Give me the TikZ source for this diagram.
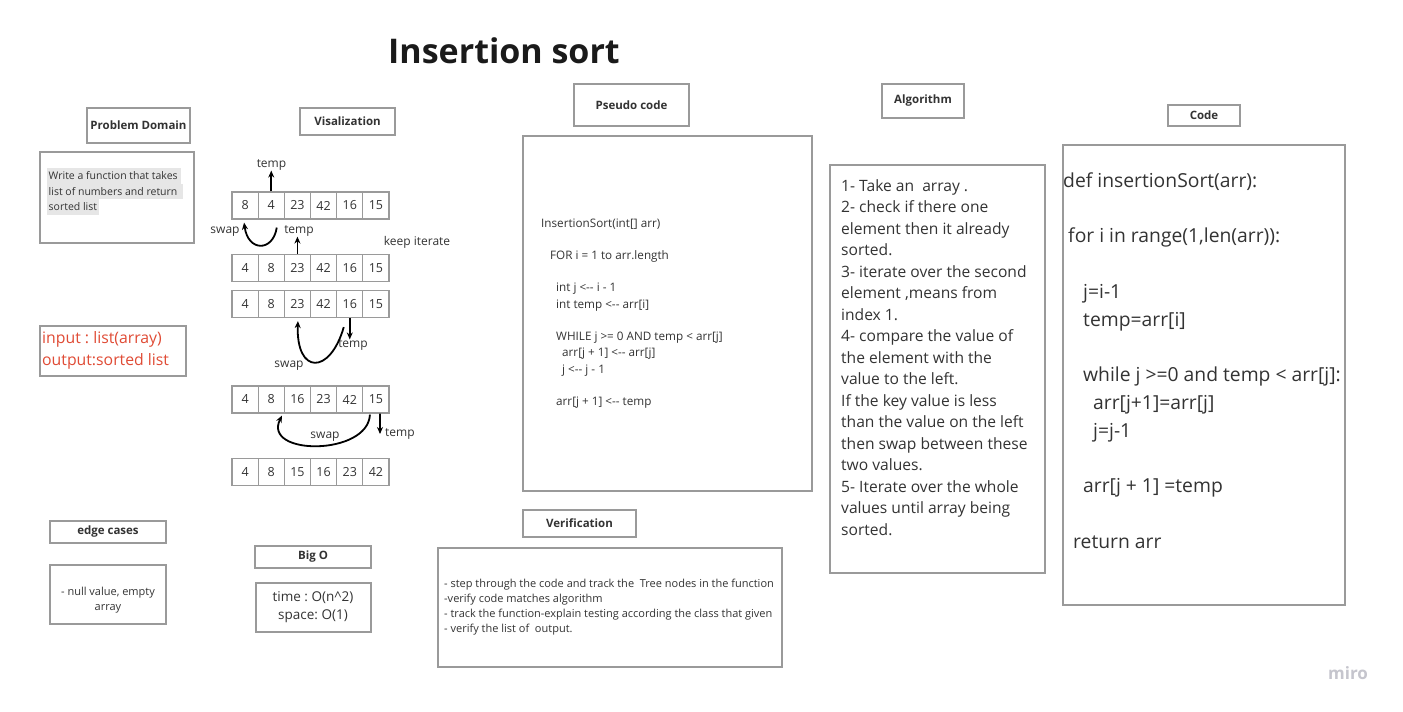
\documentclass[tikz,border=0pt]{standalone}
\usepackage{fontspec}
\setmainfont{Open Sans}
\usetikzlibrary{arrows.meta,calc}
\definecolor{bord}{HTML}{9A9A9A}
\definecolor{txt}{HTML}{333333}
\definecolor{ttl}{HTML}{1A1A1A}
\definecolor{redtxt}{HTML}{E04B35}
\definecolor{hl}{HTML}{E6E6E6}
\definecolor{mirog}{HTML}{C5C5CD}
\newcommand{\fsz}[2]{\fontsize{#1}{#2}\selectfont}
\newcommand{\tstrut}[1]{\rule{0pt}{#1}}
\frenchspacing
\begin{document}
\begin{tikzpicture}[x=1pt,y=-1pt,
  box/.style={draw=bord, line width=1.3pt, inner sep=0pt, text=txt},
  hdr/.style={box, font=\bfseries\fsz{11.5}{14}},
  cell/.style={draw=bord, line width=1.2pt, minimum width=26.17pt, minimum height=27pt, inner sep=0pt, font=\fsz{12.5}{15}, text=txt},
  lbl/.style={font=\fsz{12}{14}, text=txt, inner sep=0pt},
  arr/.style={line width=1.8pt, -{Stealth[length=7pt,width=6pt]}},
  body/.style={text=txt, inner sep=0pt, align=left, anchor=north west},
  hlline/.style={fill=hl, text=txt, inner xsep=1.5pt, inner ysep=0pt, minimum height=15.5pt, anchor=west, font=\fsz{10.5}{15}}
]
\useasboundingbox (0,0) rectangle (1403,712);
\fill[white] (0,0) rectangle (1403,712);

% title
\node[font=\bfseries\fsz{34}{40}, text=ttl, inner sep=0pt] (title) at (504,51) {Insertion sort};

% headers
\node[hdr, minimum width=103pt, minimum height=35pt] (pdh) at (138.5,125.5) {Problem Domain};
\node[hdr, minimum width=95pt, minimum height=27pt] (vish) at (347.5,121.5) {Visalization};
\node[hdr, minimum width=115pt, minimum height=42pt] (psh) at (631.5,105) {Pseudo code};
\node[hdr, minimum width=82pt, minimum height=34pt] (algh) at (923,101) {Algorithm};
\node[hdr, minimum width=72pt, minimum height=21pt] (codeh) at (1204,115.5) {Code};
\node[hdr, minimum width=116pt, minimum height=22pt] (ech) at (108,532) {edge cases};
\node[hdr, minimum width=116pt, minimum height=22pt] (boh) at (313,557) {Big O};
\node[hdr, minimum width=113pt, minimum height=27pt] (verh) at (579.5,523.5) {Verification};

% content boxes
\node[box, minimum width=154pt, minimum height=91pt] (pdb) at (117,197.5) {};
\node[box, minimum width=146pt, minimum height=50pt] (iob) at (113,351) {};
\node[box, minimum width=289pt, minimum height=355pt] (psb) at (667.5,313.5) {};
\node[box, minimum width=215pt, minimum height=408pt] (algb) at (937.5,369) {};
\node[box, minimum width=282pt, minimum height=460pt] (codeb) at (1204,375) {};
\node[box, minimum width=116pt, minimum height=59pt] (ecb) at (108,594.5) {};
\node[box, minimum width=115pt, minimum height=49pt] (bob) at (313.5,607.5) {};
\node[box, minimum width=344pt, minimum height=119pt] (verb) at (610,607.5) {};

% problem domain text
\node[hlline] (pd1) at (47,176) {Write a function that takes\hspace*{2pt}};
\node[hlline] (pd2) at (47,191.5) {list of numbers and return\hspace*{4pt}};
\node[hlline] (pd3) at (47,207) {sorted list};

% input / output
\node[body, text=redtxt, font=\fsz{15.8}{22}] (io) at (42,327.5) {\tstrut{16pt}input : list(array)\\output:sorted list};

% arrays
\foreach \r/\y/\vals in {1/205.5/{8,4,23,42,16,15},2/268/{4,8,23,42,16,15},3/304/{4,8,23,42,16,15},4/399.5/{4,8,16,23,42,15},5/472/{4,8,15,16,23,42}}{
  \foreach \v [count=\i] in \vals {
    \node[cell] (r\r-\i) at ({232+26.17*(\i-0.5)},\y) {\v};
  }
}

% visualization arrows and labels
\node[lbl] (t1) at (271.5,165) {temp};
\draw[arr] (r1-2.north) -- (r1-2.north |- t1.south);
\node[lbl] (s1) at (225,232) {swap};
\draw[arr] ([shift={(5.5,8)}]r1-2.south) .. controls (273,252) and (248,252) .. ([shift={(-1,3)}]r1-1.south);
\node[lbl] (t2) at (299,231) {temp};
\draw[arr] (r2-3.north) -- (r2-3.north |- t2.south);
\node[lbl] (ki) at (417,242) {keep iterate};

\node[lbl] (t3) at (353,345) {temp};
\draw[arr] (r3-5.south) -- (r3-5.south |- t3.north);
\draw[arr] ([shift={(-6,9)}]r3-5.south) .. controls (330,375) and (296,375) .. ([shift={(0.5,3)}]r3-3.south);
\node[lbl] (s2) at (289,366) {swap};

\node[lbl, anchor=west] (t4) at (385,434) {temp};
\coordinate (a4) at (380,434);
\draw[arr] ([xshift=4pt]r4-6.south) -- (a4);
\draw[arr] ([shift={(-6,1)}]r4-6.south) .. controls (368,456) and (262,456) .. ([shift={(-3,2)}]r4-2.south east);
\node[lbl] (s3) at (325,437) {swap};

% pseudo code
\node[body, font=\fsz{11.7}{16.2}] (pst) at (541,216) {\tstrut{11.7pt}InsertionSort(int[] arr)\\[15pt]
\hspace*{9pt}FOR i = 1 to arr.length\\[16.5pt]
\hspace*{15pt}int j <-{}- i - 1\\
\hspace*{15pt}int temp <-{}- arr[i]\\[16.5pt]
\hspace*{15pt}WHILE j >= 0 AND temp < arr[j]\\
\hspace*{21pt}arr[j + 1] <-{}- arr[j]\\
\hspace*{21pt}j <-{}- j - 1\\[16.5pt]
\hspace*{15pt}arr[j + 1] <-{}- temp};

% algorithm
\node[body, font=\fsz{15.6}{21.5}] (algt) at (841,175.5) {\tstrut{15.6pt}1- Take an\ \ array .\\
2- check if there one\\
element then it already\\
sorted.\\
3- iterate over the second\\
element ,means from\\
index 1.\\
4- compare the value of\\
the element with the\\
value to the left.\\
If the key value is less\\
than the value on the left\\
then swap between these\\
two values.\\
5- Iterate over the whole\\
values until array being\\
sorted.};

% code
\node[body, font=\fsz{19.3}{27.8}] (codet) at (1063,167.5) {\tstrut{19.3pt}def insertionSort(arr):\\[27.8pt]
\hspace*{5pt}for i in range(1,len(arr)):\\[27.8pt]
\hspace*{20pt}j=i-1\\
\hspace*{20pt}temp=arr[i]\\[27.8pt]
\hspace*{20pt}while j >=0 and temp < arr[j]:\\
\hspace*{30pt}arr[j+1]=arr[j]\\
\hspace*{30pt}j=j-1\\[27.8pt]
\hspace*{20pt}arr[j + 1] =temp\\[27.8pt]
\hspace*{10pt}return arr};

% edge cases
\node[text=txt, align=center, font=\fsz{11}{15}, inner sep=0pt] (ect) at (108,600.5) {- null value, empty\\array};

% big O
\node[text=txt, align=center, font=\fsz{13.5}{18}, inner sep=0pt] (bot) at (313,607) {time : O(n\textasciicircum 2)\\space: O(1)};

% verification
\node[body, font=\fsz{11}{15}] (vert) at (444,576.5) {\tstrut{11pt}- step through the code and track the\ \ Tree nodes in the function\\
-verify code matches algorithm\\
- track the function-explain testing according the class that given\\
- verify the list of\ \ output.};

% miro mark
\node[font=\bfseries\fsz{17}{20}, text=mirog, inner sep=0pt] (miro) at (1348,673) {miro};
\end{tikzpicture}
\end{document}
